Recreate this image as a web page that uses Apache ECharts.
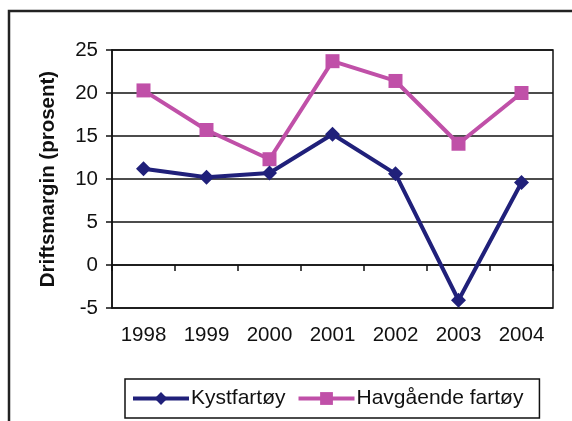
<!DOCTYPE html>
<html>
<head>
<meta charset="utf-8">
<script src="https://cdn.jsdelivr.net/npm/echarts@6/dist/echarts.min.js"></script>
<style>
  html, body { margin: 0; padding: 0; background: #fff; }
  #main { width: 572px; height: 421px; }
</style>
</head>
<body>
<div id="main"></div>
<script>
var years = ['1998', '1999', '2000', '2001', '2002', '2003', '2004'];
var kystfartoy = [11.2, 10.2, 10.7, 15.2, 10.6, -4.1, 9.6];
var havgaende = [20.3, 15.7, 12.3, 23.7, 21.4, 14.1, 20.0];
var yTicks = [-5, 0, 5, 10, 15, 20, 25];

var myChart = echarts.init(document.getElementById('main'));
var font = 'Arial, "Liberation Sans", sans-serif';

var option = {
    animation: false,
    backgroundColor: '#fff',
    graphic: [{
        type: 'rect',
        shape: { x: 9, y: 11, width: 600, height: 450 },
        style: { fill: 'none', stroke: '#222', lineWidth: 2.5 },
        z: 0
    }],
    grid: {
        left: 112, right: 19, top: 50, bottom: 113,
        show: true, borderColor: '#111', borderWidth: 1.5,
        backgroundColor: 'transparent'
    },
    legend: {
        left: 125, top: 379,
        padding: [9, 16, 9, 6],
        itemGap: 11,
        itemWidth: 56, itemHeight: 16,
        borderColor: '#111', borderWidth: 1.5, borderRadius: 0,
        lineStyle: { width: 4 },
        textStyle: { fontFamily: font, fontSize: 21, color: '#111', padding: [0, 0, 0, -3] },
        data: ['Kystfartøy', 'Havgående fartøy']
    },
    xAxis: [{
        type: 'category',
        data: years,
        position: 'bottom',
        axisLine: { onZero: true, lineStyle: { color: '#111', width: 1.5 } },
        axisTick: { show: true, length: 6, inside: false, lineStyle: { color: '#111', width: 1.5 } },
        axisLabel: { show: false }
    }, {
        type: 'category',
        data: years,
        position: 'bottom',
        axisLine: { show: false, onZero: false },
        axisTick: { show: false },
        axisLabel: { fontFamily: font, fontSize: 20.5, color: '#111', margin: 17 }
    }],
    yAxis: {
        type: 'value',
        min: -5, max: 25, interval: 5,
        name: 'Driftsmargin (prosent)',
        nameLocation: 'middle',
        nameGap: 53,
        nameTextStyle: { fontFamily: font, fontSize: 20.5, fontWeight: 'bold', color: '#111' },
        axisLine: { show: true, lineStyle: { color: '#111', width: 1.5 } },
        axisTick: { show: true, length: 6, lineStyle: { color: '#111', width: 1.5 } },
        axisLabel: {
            fontFamily: font, fontSize: 20.5, color: '#111', margin: 14,
            formatter: function (v) { return yTicks.indexOf(v) >= 0 ? String(v) : ''; }
        },
        splitLine: { show: true, lineStyle: { color: '#111', width: 1.5 } }
    },
    series: [{
        name: 'Kystfartøy',
        type: 'line',
        data: kystfartoy,
        symbol: 'diamond',
        symbolSize: 15,
        itemStyle: { color: '#20207A' },
        lineStyle: { color: '#20207A', width: 4 },
        z: 3
    }, {
        name: 'Havgående fartøy',
        type: 'line',
        data: havgaende,
        symbol: 'rect',
        symbolSize: 14,
        itemStyle: { color: '#C050A8' },
        lineStyle: { color: '#C050A8', width: 4 },
        z: 2
    }]
};
myChart.setOption(option);
</script>
</body>
</html>
